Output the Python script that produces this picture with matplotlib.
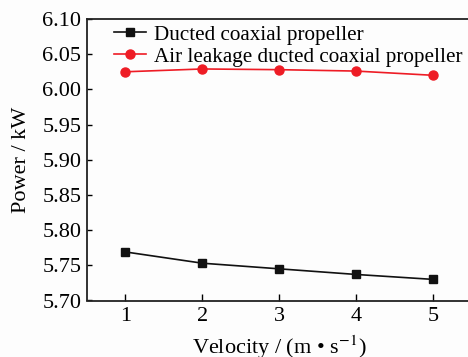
import matplotlib
matplotlib.use("Agg")
import matplotlib.pyplot as plt

velocity = [1, 2, 3, 4, 5]
ducted = [5.769, 5.753, 5.745, 5.737, 5.730]
air_leakage = [6.025, 6.029, 6.028, 6.026, 6.020]
yticks = [5.70, 5.75, 5.80, 5.85, 5.90, 5.95, 6.00, 6.05, 6.10]

plt.rcParams['font.family'] = ['Liberation Serif', 'DejaVu Serif']
plt.rcParams['mathtext.fontset'] = 'stix'

fig = plt.figure(figsize=(4.68, 3.57), dpi=100)
fig.patch.set_facecolor('#fdfdfd')
ax = fig.add_axes([87/468, 56.5/357, 384.5/468, 281.5/357])
ax.set_facecolor('#fdfdfd')

ax.plot(velocity, ducted, color='#111111', marker='s', markersize=6, lw=1.2,
        label='Ducted coaxial propeller')
ax.plot(velocity, air_leakage, color='#ee1c25', marker='o', markersize=6.5, lw=1.2,
        label='Air leakage ducted coaxial propeller')

ax.set_xlim(0.5, 5.5)
ax.set_ylim(5.70, 6.10)
ax.set_xticks(velocity)
ax.set_yticks(yticks)
ax.set_yticklabels([f"{v:.2f}" for v in yticks])
ax.tick_params(direction='in', labelsize=16, width=1)
ax.tick_params(axis='y', length=3.5, pad=4)
ax.tick_params(axis='x', length=5, pad=5)
for s in ax.spines.values():
    s.set_linewidth(1.3)
    s.set_color('#222222')

ax.set_xlabel(r'Velocity / (m • s$^{-1}$)', fontsize=16, labelpad=5)
ax.set_ylabel('Power / kW', fontsize=16, labelpad=8)

ax.legend(loc='upper left', bbox_to_anchor=(0.047, 1.009), frameon=False, fontsize=15.2,
          handlelength=1.55, handletextpad=0.35, labelspacing=0.1, borderaxespad=0)

fig.savefig('out.png', dpi=100, facecolor=fig.get_facecolor())
